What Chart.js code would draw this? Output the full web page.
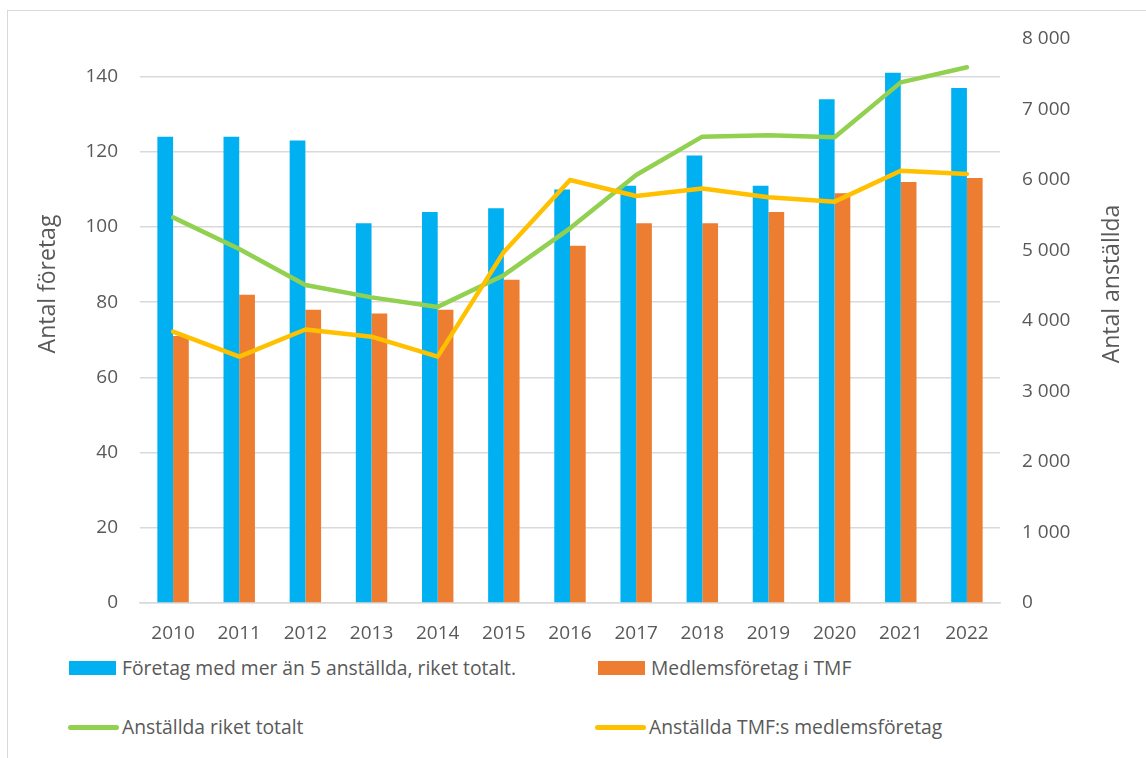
<!DOCTYPE html>
<html>
<head>
<meta charset="utf-8">
<script src="https://cdn.jsdelivr.net/npm/chart.js@4/dist/chart.umd.min.js"></script>
<style>
  html, body { margin: 0; padding: 0; background: #fff; overflow: hidden; }
  #frame { position: absolute; left: 7px; top: 10px; width: 1200px; height: 800px; border: 1.5px solid #d9d9d9; box-sizing: border-box; }
  #wrap { position: absolute; left: 0; top: 0; width: 1146px; height: 650px; }
  .leg { position: absolute; font-family: "Open Sans", sans-serif; font-size: 19.3px; color: #595959; white-space: nowrap; line-height: 20px; }
  .leg .sw { position: absolute; }
</style>
</head>
<body>
<div id="frame"></div>
<div id="wrap"><canvas id="chart"></canvas></div>
<div id="legend"></div>
<script>
// data
var years = ['2010', '2011', '2012', '2013', '2014', '2015', '2016', '2017', '2018', '2019', '2020', '2021', '2022'];
var foretagRiket = [124, 124, 123, 101, 104, 105, 110, 111, 119, 111, 134, 141, 137];
var medlemsforetag = [71, 82, 78, 77, 78, 86, 95, 101, 101, 104, 109, 112, 113];
var anstalldaRiket = [5470, 5020, 4510, 4335, 4200, 4650, 5315, 6070, 6615, 6635, 6605, 7385, 7600];
var anstalldaTmf = [3850, 3495, 3880, 3778, 3495, 4980, 6000, 5773, 5880, 5755, 5693, 6130, 6085];

var seriesNames = ['Företag med mer än 5 anställda, riket totalt.', 'Medlemsföretag i TMF', 'Anställda riket totalt', 'Anställda TMF:s medlemsföretag'];
var colors = ['#00b0f0', '#ed7d31', '#92d050', '#ffc000'];

var leftTitle = 'Antal företag';
var rightTitle = 'Antal anställda';

var textColor = '#595959';
var gridColor = '#d9d9d9';
var fontFamily = '"Open Sans", sans-serif';
var tickSize = 19;

// axis titles read bottom-to-top on both sides
var axisTitles = {
    id: 'axisTitles',
    afterDraw: function(chart) {
        var c = chart.ctx;
        var area = chart.chartArea;
        var cy = 284;
        c.save();
        c.fillStyle = textColor;
        c.font = '23px ' + fontFamily;
        c.textAlign = 'center';
        c.textBaseline = 'middle';
        c.translate(48, cy);
        c.rotate(-Math.PI / 2);
        c.fillText(leftTitle, 0, 0);
        c.restore();
        c.save();
        c.fillStyle = textColor;
        c.font = '23px ' + fontFamily;
        c.textAlign = 'center';
        c.textBaseline = 'middle';
        c.translate(area.right + 112, cy);
        c.rotate(-Math.PI / 2);
        c.fillText(rightTitle, 0, 0);
        c.restore();
    }
};

var ctx = document.getElementById('chart').getContext('2d');
new Chart(ctx, {
    data: {
        labels: years,
        datasets: [{
            type: 'bar',
            label: seriesNames[0],
            data: foretagRiket,
            backgroundColor: colors[0],
            yAxisID: 'y',
            order: 2
        }, {
            type: 'bar',
            label: seriesNames[1],
            data: medlemsforetag,
            backgroundColor: colors[1],
            yAxisID: 'y',
            order: 2
        }, {
            type: 'line',
            label: seriesNames[2],
            data: anstalldaRiket,
            borderColor: colors[2],
            backgroundColor: colors[2],
            borderWidth: 4.5,
            pointRadius: 0,
            borderCapStyle: 'round',
            borderJoinStyle: 'round',
            tension: 0,
            yAxisID: 'y1',
            order: 1
        }, {
            type: 'line',
            label: seriesNames[3],
            data: anstalldaTmf,
            borderColor: colors[3],
            backgroundColor: colors[3],
            borderWidth: 4.5,
            pointRadius: 0,
            borderCapStyle: 'round',
            borderJoinStyle: 'round',
            tension: 0,
            yAxisID: 'y1',
            order: 0
        }]
    },
    options: {
        responsive: true,
        maintainAspectRatio: false,
        animation: false,
        layout: { padding: { top: 39, left: 0, right: 0, bottom: 0 } },
        datasets: {
            bar: { categoryPercentage: 0.475, barPercentage: 1.0 }
        },
        plugins: {
            legend: { display: false },
            tooltip: { enabled: false }
        },
        scales: {
            x: {
                grid: { display: false, drawTicks: false },
                border: { display: true, color: gridColor, width: 1.5 },
                ticks: { color: textColor, font: { family: fontFamily, size: tickSize }, padding: 19, maxRotation: 0 },
                afterFit: function(s) { s.height = 47; }
            },
            y: {
                position: 'left',
                min: 0,
                max: 150,
                grid: { color: gridColor, lineWidth: 1.5, drawTicks: false, tickLength: 0 },
                border: { display: false },
                ticks: { stepSize: 20, color: textColor, font: { family: fontFamily, size: tickSize }, padding: 22 },
                // the axis runs to 150 but the last labelled step is 140
                afterBuildTicks: function(s) { s.ticks = s.ticks.filter(function(t) { return t.value <= 140; }); },
                afterFit: function(s) { s.width = 140; }
            },
            y1: {
                position: 'right',
                min: 0,
                max: 8000,
                grid: { drawOnChartArea: false, drawTicks: false, tickLength: 0 },
                border: { display: false },
                ticks: {
                    stepSize: 1000,
                    color: textColor,
                    font: { family: fontFamily, size: tickSize },
                    padding: 22,
                    callback: function(v) { return String(v).replace(/\B(?=(\d{3})+(?!\d))/g, ' '); }
                },
                afterFit: function(s) { s.width = 146; }
            }
        }
    },
    plugins: [axisTitles]
});

// legend, two rows of two
var legendSpots = [
    { x: 69, y: 658, kind: 'box' },
    { x: 598, y: 658, kind: 'box' },
    { x: 68, y: 717, kind: 'line' },
    { x: 595, y: 717, kind: 'line' }
];
var legend = document.getElementById('legend');
legendSpots.forEach(function(p, i) {
    var item = document.createElement('div');
    item.className = 'leg';
    item.style.left = p.x + 'px';
    item.style.top = p.y + 'px';
    var sw = document.createElement('span');
    sw.className = 'sw';
    sw.style.background = colors[i];
    if (p.kind === 'box') {
        sw.style.left = '0px'; sw.style.top = '3px'; sw.style.width = '47px'; sw.style.height = '14px';
    } else {
        sw.style.left = '0px'; sw.style.top = '8px'; sw.style.width = '51px'; sw.style.height = '5px'; sw.style.borderRadius = '3px';
    }
    var tx = document.createElement('span');
    tx.textContent = seriesNames[i];
    tx.style.marginLeft = (p.kind === 'box' ? 53 : 54) + 'px';
    item.appendChild(sw);
    item.appendChild(tx);
    legend.appendChild(item);
});
</script>
</body>
</html>
